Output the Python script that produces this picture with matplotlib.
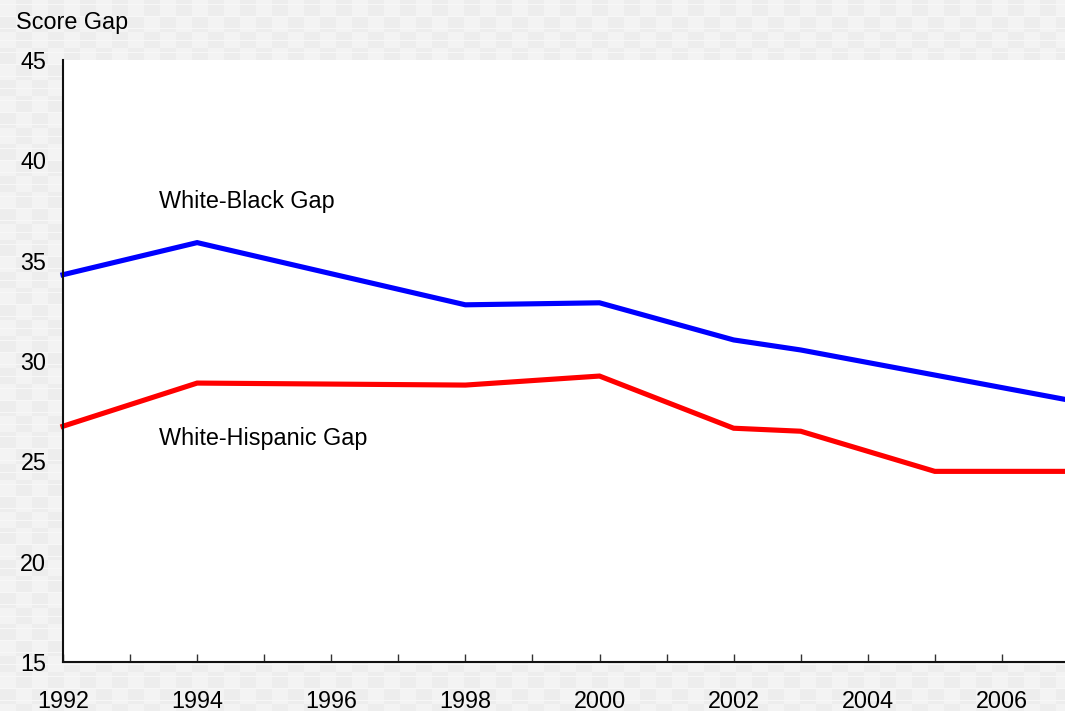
import matplotlib.pyplot as plt
import numpy as np
from matplotlib.ticker import MultipleLocator

years = [1992, 1994, 1998, 2000, 2002, 2003, 2005, 2007]
black_gap = [34.3, 35.9, 32.8, 32.9, 31.05, 30.55, 29.3, 28.05]
hispanic_gap = [26.75, 28.9, 28.8, 29.25, 26.65, 26.5, 24.5, 24.5]

plt.rcParams["font.family"] = ["Liberation Sans", "DejaVu Sans"]
fs = 16.8

fig = plt.figure(figsize=(10.65, 7.11), dpi=100)

# checkered light grey backdrop
h, w = 711, 1065
yy, xx = np.mgrid[0:h, 0:w]
bg = np.where(((xx // 16) + (yy // 16)) % 2 == 0, 0.955, 0.93)
bg = np.where(yy % 12 == 4, 0.97, bg)
bax = fig.add_axes([0, 0, 1, 1], zorder=-1)
bax.imshow(np.dstack([bg, bg, bg]), aspect="auto", interpolation="nearest")
bax.axis("off")

ax = fig.add_axes([63 / w, 1 - 662 / h, (w - 63) / w + 0.01, (662 - 60) / h], zorder=1)
ax.set_facecolor("white")
ax.plot(years, black_gap, color="#0000ff", lw=3.7, solid_joinstyle="miter", clip_on=False)
ax.plot(years, hispanic_gap, color="#ff0000", lw=3.7, solid_joinstyle="miter", clip_on=False)

ax.set_xlim(1992, 2007.1)
ax.set_ylim(15, 45)
ax.xaxis.set_major_locator(MultipleLocator(2))
ax.xaxis.set_minor_locator(MultipleLocator(1))
ax.yaxis.set_major_locator(MultipleLocator(5))
ax.tick_params(axis="x", which="both", direction="in", length=6, width=1,
               labelsize=fs, pad=20, color="#333333")
ax.tick_params(axis="y", length=0, labelsize=fs, pad=12)
for s in ["top", "right"]:
    ax.spines[s].set_visible(False)
for s in ["left", "bottom"]:
    ax.spines[s].set_linewidth(1.5)
    ax.spines[s].set_color("#111111")

ax.text(1993.43, 37.97, "White-Black Gap", fontsize=fs, ha="left", va="center")
ax.text(1993.43, 26.12, "White-Hispanic Gap", fontsize=fs, ha="left", va="center")
fig.text(16 / w, 1 - 22 / h, "Score Gap", fontsize=fs, ha="left", va="center")

fig.savefig("out.png", dpi=100)
